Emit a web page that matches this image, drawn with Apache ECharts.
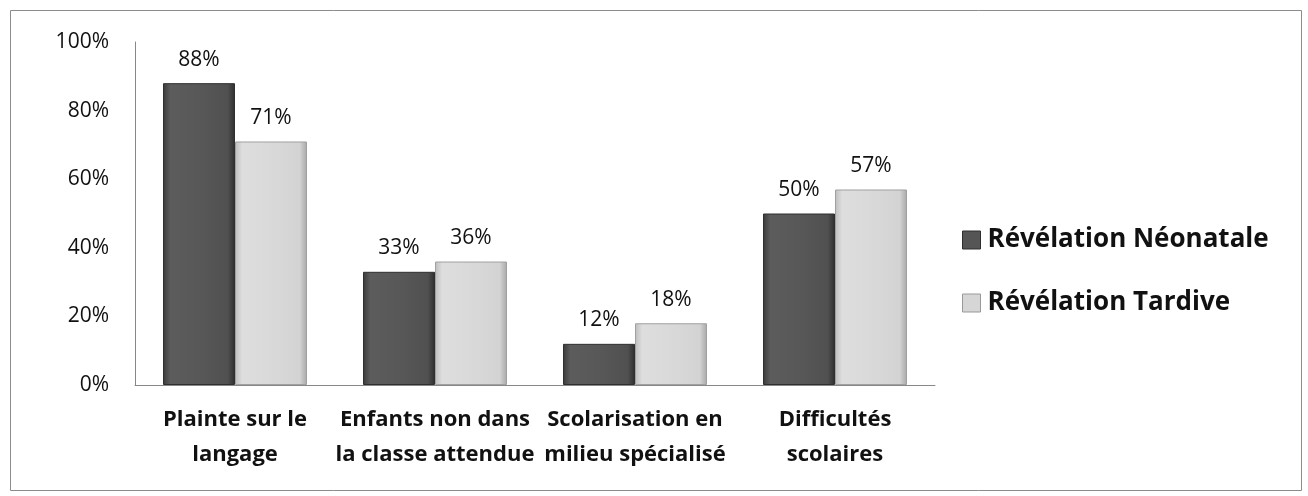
<!DOCTYPE html>
<html>
<head>
<meta charset="utf-8">
<script src="https://cdn.jsdelivr.net/npm/echarts@6/dist/echarts.min.js"></script>
<style>
  html, body { margin: 0; padding: 0; background: #fff; }
  #chart { width: 1308px; height: 496px; }
</style>
</head>
<body>
<div id="chart"></div>
<script>
var categories = ['Plainte sur le\nlangage', 'Enfants non dans\nla classe attendue', 'Scolarisation en\nmilieu spécialisé', 'Difficultés\nscolaires'];
var neonatale = [88, 33, 12, 50];
var tardive = [71, 36, 18, 57];
var seriesNames = ['Révélation Néonatale', 'Révélation Tardive'];

var fontFam = '"Open Sans", "Liberation Sans", sans-serif';

var darkFill = new echarts.graphic.LinearGradient(0, 0, 1, 0, [
  { offset: 0, color: '#3a3a3a' },
  { offset: 0.1, color: '#5c5c5c' },
  { offset: 0.5, color: '#585858' },
  { offset: 0.9, color: '#505050' },
  { offset: 1, color: '#2e2e2e' }
]);
var lightFill = new echarts.graphic.LinearGradient(0, 0, 1, 0, [
  { offset: 0, color: '#bdbdbd' },
  { offset: 0.1, color: '#dedede' },
  { offset: 0.5, color: '#d9d9d9' },
  { offset: 0.9, color: '#d3d3d3' },
  { offset: 1, color: '#a8a8a8' }
]);

var myChart = echarts.init(document.getElementById('chart'));

var option = {
  backgroundColor: '#fff',
  animation: false,
  graphic: [
    {
      type: 'rect',
      left: 8, top: 8,
      shape: { width: 1291, height: 480 },
      style: { fill: 'none', stroke: '#8c8c8c', lineWidth: 1 }
    }
  ],
  grid: { left: 135, right: 373, top: 42, bottom: 111 },
  legend: {
    orient: 'vertical',
    left: 957,
    top: 222,
    itemGap: 37,
    itemWidth: 18,
    itemHeight: 18,
    icon: 'rect',
    textStyle: { fontFamily: fontFam, fontSize: 26, fontWeight: 'bold', color: '#111', padding: [0, 0, 0, 2] },
    data: [
      { name: seriesNames[0], itemStyle: { color: '#555', borderColor: '#2f2f2f', borderWidth: 1 } },
      { name: seriesNames[1], itemStyle: { color: '#d6d6d6', borderColor: '#999', borderWidth: 1 } }
    ]
  },
  xAxis: {
    type: 'category',
    data: categories,
    axisLine: { lineStyle: { color: '#888' } },
    axisTick: { show: false },
    axisLabel: {
      interval: 0,
      margin: 17,
      fontFamily: fontFam,
      fontSize: 22,
      fontWeight: 'bold',
      color: '#111',
      lineHeight: 35
    }
  },
  yAxis: {
    type: 'value',
    min: 0,
    max: 100,
    interval: 20,
    axisLine: { show: true, lineStyle: { color: '#888' } },
    axisTick: { show: false },
    splitLine: { show: false },
    axisLabel: {
      margin: 26,
      formatter: '{value}%',
      fontFamily: fontFam,
      fontSize: 21,
      color: '#111'
    }
  },
  series: [
    {
      name: seriesNames[0],
      type: 'bar',
      data: neonatale,
      barWidth: 72,
      barGap: '0%',
      itemStyle: { color: darkFill, borderColor: '#2f2f2f', borderWidth: 1 },
      label: {
        show: true,
        position: 'top',
        distance: 13,
        formatter: '{c}%',
        fontFamily: fontFam,
        fontSize: 21,
        color: '#111'
      }
    },
    {
      name: seriesNames[1],
      type: 'bar',
      data: tardive,
      barWidth: 72,
      itemStyle: { color: lightFill, borderColor: '#a0a0a0', borderWidth: 1 },
      label: {
        show: true,
        position: 'top',
        distance: 13,
        formatter: '{c}%',
        fontFamily: fontFam,
        fontSize: 21,
        color: '#111'
      }
    }
  ]
};

myChart.setOption(option);
</script>
</body>
</html>
